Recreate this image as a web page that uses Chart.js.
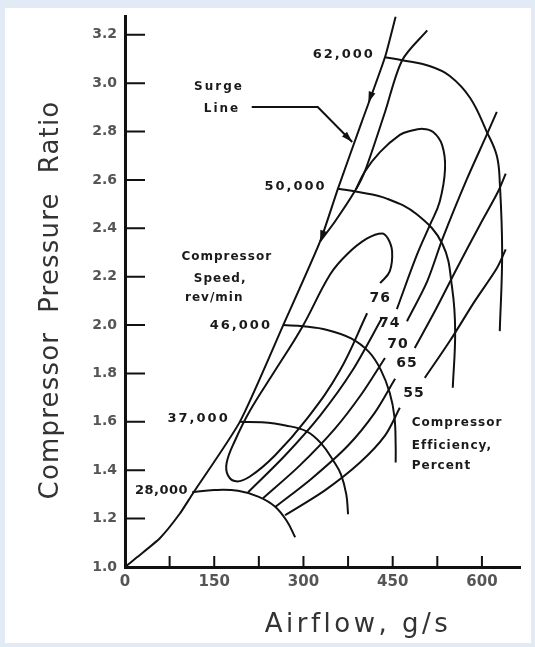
<!DOCTYPE html>
<html>
<head>
<meta charset="utf-8">
<script src="https://cdn.jsdelivr.net/npm/chart.js@4.4.1/dist/chart.umd.min.js"></script>
<style>
  html, body { margin: 0; padding: 0; background: #e2eaf6; }
  #wrap { width: 535px; height: 647px; }
</style>
</head>
<body>
<div id="wrap"><canvas id="mapChart" width="535" height="647"></canvas></div>
<script>
// axis ticks
const xTicks = [0, 75, 150, 225, 300, 375, 450, 525, 600];
const xTickText = ["0", "", "150", "", "300", "", "450", "", "600"];
const yTicks = [1.0, 1.2, 1.4, 1.6, 1.8, 2.0, 2.2, 2.4, 2.6, 2.8, 3.0, 3.2];

// surge line (airflow g/s, pressure ratio)
const surgeFlow  = [0, 20, 59, 92, 113, 193, 266, 328, 358, 398, 437, 455];
const surgeRatio = [1.0, 1.04, 1.12, 1.22, 1.30, 1.60, 2.0, 2.346, 2.564, 2.84, 3.107, 3.276];

// line running beside the surge line at the top
const sideFlow  = [508, 466, 437, 403, 387, 353, 328];
const sideRatio = [3.218, 3.095, 2.88, 2.634, 2.556, 2.428, 2.346];

// constant speed lines, rev/min
const n28Flow  = [113, 150, 190, 225, 252, 272, 286];
const n28Ratio = [1.309, 1.318, 1.315, 1.29, 1.25, 1.19, 1.123];
const n37Flow  = [193, 230, 270, 306, 330, 350, 363, 372, 375];
const n37Ratio = [1.60, 1.598, 1.585, 1.56, 1.51, 1.44, 1.383, 1.30, 1.218];
const n46Flow  = [266, 300, 340, 380, 410, 430, 445, 453, 455, 455];
const n46Ratio = [2.0, 1.995, 1.98, 1.945, 1.889, 1.815, 1.72, 1.62, 1.50, 1.432];
const n50Flow  = [358, 390, 440, 491, 534, 550, 555, 551];
const n50Ratio = [2.564, 2.551, 2.523, 2.457, 2.333, 2.152, 1.975, 1.741];
const n62Flow  = [437, 466, 513, 546, 580, 608, 625, 630, 634, 630];
const n62Ratio = [3.107, 3.095, 3.07, 3.03, 2.94, 2.80, 2.70, 2.59, 2.30, 1.975];

// efficiency contours, percent
const e76Flow  = [429, 445, 449, 442, 432, 407, 373, 345, 297, 252, 210, 185, 171, 173, 187, 210, 252, 306, 361, 407];
const e76Ratio = [2.173, 2.222, 2.305, 2.358, 2.379, 2.358, 2.292, 2.21, 1.988, 1.811, 1.646, 1.523, 1.432, 1.379, 1.354, 1.374, 1.461, 1.613, 1.811, 2.049];
const e74UpFlow  = [457, 491, 513, 529, 538, 533, 518, 501, 479, 462, 429, 403, 388];
const e74UpRatio = [2.066, 2.292, 2.416, 2.510, 2.646, 2.745, 2.798, 2.811, 2.802, 2.786, 2.716, 2.634, 2.560];
const e74LoFlow  = [207, 269, 328, 382, 432];
const e74LoRatio = [1.309, 1.461, 1.626, 1.811, 2.029];
const e70UpFlow  = [474, 508, 534, 575, 608, 625];
const e70UpRatio = [2.016, 2.181, 2.358, 2.605, 2.786, 2.881];
const e70LoFlow  = [232, 294, 353, 398, 437];
const e70LoRatio = [1.284, 1.42, 1.572, 1.716, 1.864];
const e65UpFlow  = [487, 521, 558, 597, 627, 640];
const e65UpRatio = [1.905, 2.058, 2.235, 2.416, 2.551, 2.626];
const e65LoFlow  = [252, 314, 375, 420, 454];
const e65LoRatio = [1.247, 1.366, 1.502, 1.638, 1.778];
const e55UpFlow  = [504, 546, 588, 625, 640];
const e55UpRatio = [1.782, 1.934, 2.099, 2.235, 2.313];
const e55LoFlow  = [269, 336, 395, 437, 462];
const e55LoRatio = [1.214, 1.317, 1.432, 1.543, 1.658];

// leader of the "Surge Line" note
const leaderFlow  = [213, 324, 382];
const leaderRatio = [2.901, 2.901, 2.757];

const FONT = '"DejaVu Sans", sans-serif';

function series(flow, ratio) {
  return flow.map((x, i) => ({ x: x, y: ratio[i] }));
}

const curves = [
  [surgeFlow, surgeRatio, 0.2],
  [sideFlow, sideRatio, 0.3],
  [n28Flow, n28Ratio, 0.4],
  [n37Flow, n37Ratio, 0.4],
  [n46Flow, n46Ratio, 0.4],
  [n50Flow, n50Ratio, 0.4],
  [n62Flow, n62Ratio, 0.4],
  [e76Flow, e76Ratio, 0.4],
  [e74UpFlow, e74UpRatio, 0.4],
  [e74LoFlow, e74LoRatio, 0.3],
  [e70UpFlow, e70UpRatio, 0.3],
  [e70LoFlow, e70LoRatio, 0.3],
  [e65UpFlow, e65UpRatio, 0.3],
  [e65LoFlow, e65LoRatio, 0.3],
  [e55UpFlow, e55UpRatio, 0.3],
  [e55LoFlow, e55LoRatio, 0.3],
  [leaderFlow, leaderRatio, 0]
];

// text notes placed in data units
const notes = [
  { t: "62,000", x: 420, y: 3.12, align: "right", size: 13, sp: 2 },
  { t: "50,000", x: 339, y: 2.572, align: "right", size: 13, sp: 2 },
  { t: "46,000", x: 247, y: 1.996, align: "right", size: 13, sp: 2 },
  { t: "37,000", x: 176, y: 1.613, align: "right", size: 13, sp: 2 },
  { t: "28,000", x: 106, y: 1.317, align: "right", size: 13, sp: 0.5 },
  { t: "Surge", x: 158, y: 2.984, align: "center", size: 12, sp: 2 },
  { t: "Line", x: 163, y: 2.893, align: "center", size: 12, sp: 2 },
  { t: "Compressor", x: 171, y: 2.284, align: "center", size: 12, sp: 1 },
  { t: "Speed,", x: 160, y: 2.193, align: "center", size: 12, sp: 1 },
  { t: "rev/min", x: 150, y: 2.111, align: "center", size: 12, sp: 1 },
  { t: "76", x: 429, y: 2.111, align: "center", size: 14, sp: 1 },
  { t: "74", x: 445, y: 2.008, align: "center", size: 14, sp: 1 },
  { t: "70", x: 459, y: 1.922, align: "center", size: 14, sp: 1 },
  { t: "65", x: 474, y: 1.84, align: "center", size: 14, sp: 1 },
  { t: "55", x: 486, y: 1.716, align: "center", size: 14, sp: 1 },
  { t: "Compressor", x: 482, y: 1.597, align: "left", size: 12, sp: 1 },
  { t: "Efficiency,", x: 482, y: 1.502, align: "left", size: 12, sp: 1 },
  { t: "Percent", x: 482, y: 1.42, align: "left", size: 12, sp: 1 }
];

// arrowheads: tip point and the point the arrow comes from
const arrows = [
  { x: 409, y: 2.92, fx: 437, fy: 3.107 },
  { x: 328, y: 2.346, fx: 358, fy: 2.564 },
  { x: 382, y: 2.757, fx: 324, fy: 2.901 }
];

const drawing = {
  id: "drawing",
  beforeDraw(chart) {
    const ctx = chart.ctx;
    ctx.save();
    ctx.fillStyle = "#e2eaf6";
    ctx.fillRect(0, 0, chart.width, chart.height);
    ctx.fillStyle = "#ffffff";
    ctx.fillRect(5, 8, chart.width - 9, chart.height - 12);
    ctx.restore();
  },
  afterDraw(chart) {
    const ctx = chart.ctx;
    const xs = chart.scales.x, ys = chart.scales.y;
    const ca = chart.chartArea;
    ctx.save();
    // inward tick marks
    ctx.strokeStyle = "#111";
    ctx.lineWidth = 2;
    ctx.beginPath();
    yTicks.forEach(v => {
      const py = ys.getPixelForValue(v);
      ctx.moveTo(ca.left, py);
      ctx.lineTo(ca.left + 20, py);
    });
    xTicks.forEach(v => {
      if (v === 0) return;
      const px = xs.getPixelForValue(v);
      ctx.moveTo(px, ca.bottom);
      ctx.lineTo(px, ca.bottom - 11);
    });
    ctx.stroke();

    // arrowheads
    ctx.fillStyle = "#111";
    arrows.forEach(a => {
      const tx = xs.getPixelForValue(a.x), ty = ys.getPixelForValue(a.y);
      const fx = xs.getPixelForValue(a.fx), fy = ys.getPixelForValue(a.fy);
      const ang = Math.atan2(ty - fy, tx - fx);
      ctx.beginPath();
      ctx.moveTo(tx, ty);
      ctx.lineTo(tx - 11 * Math.cos(ang) + 3.5 * Math.sin(ang), ty - 11 * Math.sin(ang) - 3.5 * Math.cos(ang));
      ctx.lineTo(tx - 11 * Math.cos(ang) - 3.5 * Math.sin(ang), ty - 11 * Math.sin(ang) + 3.5 * Math.cos(ang));
      ctx.closePath();
      ctx.fill();
    });

    // notes
    ctx.fillStyle = "#1a1a1a";
    ctx.textBaseline = "middle";
    notes.forEach(n => {
      ctx.font = "bold " + n.size + "px " + FONT;
      ctx.letterSpacing = n.sp + "px";
      ctx.textAlign = n.align;
      ctx.fillText(n.t, xs.getPixelForValue(n.x), ys.getPixelForValue(n.y));
    });

    // axis titles
    ctx.fillStyle = "#333";
    ctx.font = "26px " + FONT;
    ctx.letterSpacing = "1.2px";
    ctx.textAlign = "center";
    ctx.save();
    ctx.translate(51, 300);
    ctx.rotate(-Math.PI / 2);
    ctx.fillText("Compressor  Pressure  Ratio", 0, 0);
    ctx.restore();
    ctx.letterSpacing = "3.5px";
    ctx.fillText("Airflow, g/s", 358, 625);
    ctx.restore();
  }
};

new Chart(document.getElementById("mapChart"), {
  type: "scatter",
  data: {
    datasets: curves.map(c => ({
      data: series(c[0], c[1]),
      showLine: true,
      tension: c[2],
      borderColor: "#111",
      borderWidth: 2,
      pointRadius: 0,
      fill: false
    }))
  },
  options: {
    responsive: false,
    animation: false,
    layout: { padding: { top: 14, right: 15, left: 0, bottom: 0 } },
    plugins: { legend: { display: false }, tooltip: { enabled: false } },
    scales: {
      x: {
        type: "linear",
        min: 0,
        max: 664,
        afterFit: s => { s.height = 80; },
        afterBuildTicks: s => { s.ticks = xTicks.map(v => ({ value: v })); },
        grid: { display: false, drawTicks: false },
        border: { display: true, color: "#111", width: 3 },
        ticks: {
          autoSkip: false,
          maxRotation: 0,
          padding: 6,
          color: "#555",
          font: { family: FONT, size: 15, weight: "bold" },
          callback: (v) => xTickText[xTicks.indexOf(v)]
        }
      },
      y: {
        type: "linear",
        min: 1.0,
        max: 3.276,
        afterFit: s => { s.width = 125; },
        afterBuildTicks: s => { s.ticks = yTicks.map(v => ({ value: v })); },
        grid: { display: false, drawTicks: false },
        border: { display: true, color: "#111", width: 3 },
        ticks: {
          autoSkip: false,
          padding: 8,
          color: "#555",
          font: { family: FONT, size: 14, weight: "bold" },
          callback: (v) => v.toFixed(1)
        }
      }
    }
  },
  plugins: [drawing]
});
</script>
</body>
</html>
